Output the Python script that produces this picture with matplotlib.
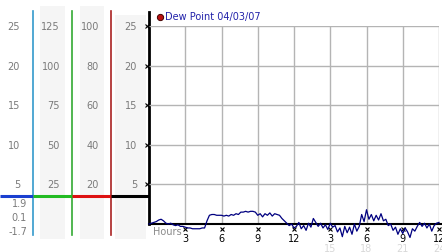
import matplotlib
matplotlib.use('Agg')
import matplotlib.pyplot as plt
from matplotlib.transforms import blended_transform_factory

# dew point trace, one value every 12 minutes from 00:00 to 24:00
hours = [i * 0.2 for i in range(121)]
dew = [0.0, 0.1, 0.2, 0.3, 0.5, 0.6, 0.4, 0.1, 0.0, 0.1,
       -0.1, -0.2, -0.1, -0.3, -0.3, -0.4, -0.5, -0.5, -0.6, -0.6,
       -0.6, -0.6, -0.5, -0.5, 0.4, 1.1, 1.2, 1.2, 1.1, 1.1,
       1.1, 1.0, 1.1, 1.0, 1.2, 1.1, 1.3, 1.2, 1.5, 1.5,
       1.6, 1.5, 1.6, 1.6, 1.5, 1.1, 1.3, 0.9, 1.3, 1.1,
       1.4, 1.0, 1.3, 1.2, 1.1, 0.7, 0.4, 0.1, -0.2, 0.0,
       -0.5, -0.3, 0.2, -0.6, -0.2, -0.8, 0.1, -0.4, 0.7, 0.2,
       -0.3, 0.1, -0.5, -0.1, -0.7, 0.1, -0.4, -0.2, -1.0, -0.5,
       -1.6, -0.3, -1.1, -0.4, -1.3, 0.0, -0.9, -0.3, 1.2, 0.3,
       1.8, 0.6, 1.2, 0.4, 1.1, 0.5, 1.3, 0.4, 0.6, -0.2,
       0.0, -0.8, -0.4, -1.3, -0.6, -1.2, -0.5, -1.0, -1.7, -0.6,
       -0.9, -0.3, 0.2, -0.3, 0.1, -0.5, 0.0, -0.9, -0.2, 0.1,
       0.2]

xticks = [3, 6, 9, 12, 15, 18, 21, 24]
xlabels = ['3', '6', '9', '12', '3', '6', '9', '12']
xlabels2 = ['15', '18', '21', '24']
yticks = [5, 10, 15, 20, 25]

col1 = ['5', '10', '15', '20', '25']
col2 = ['25', '50', '75', '100', '125']
col3 = ['20', '40', '60', '80', '100']
col4 = ['5', '10', '15', '20', '25']
low_labels = ['1.9', '0.1', '-1.7']

W, H = 442, 253
fig = plt.figure(figsize=(W / 100, H / 100), dpi=100)
fig.patch.set_facecolor('white')

# pixel space for the scale columns on the left
bg = fig.add_axes([0, 0, 1, 1])
bg.set_xlim(0, W)
bg.set_ylim(H, 0)
bg.axis('off')

# main plot area
ax = fig.add_axes([149 / W, (H - 225) / H, 290 / W, 198 / H])
ax.set_xlim(0, 24)
ax.set_ylim(0, 25)
ax.patch.set_alpha(0)
for s in ax.spines.values():
    s.set_visible(False)
ax.set_xticks([])
ax.set_yticks([])

# gray column backgrounds
for x0, x1, y0 in [(40, 65, 7), (80, 104, 7), (115, 146, 16)]:
    bg.fill_between([x0, x1], y0, 240, color='#f5f5f5', lw=0, zorder=0)

# colored scale lines
for x, c in [(33, '#3399cc'), (72, '#33aa33'), (111, '#aa2222')]:
    bg.plot([x, x], [12, 236], color=c, lw=1.2, zorder=2)
for x0, x1, c in [(0, 33, '#1a3fd0'), (33, 72, '#22bb22'),
                  (72, 111, '#dd1111'), (111, 149, 'black')]:
    bg.plot([x0, x1], [197, 197], color=c, lw=2.2, solid_capstyle='butt', zorder=3)
bg.plot([149, 149], [13, 225], color='black', lw=2, zorder=3)

# column labels follow the main y scale
tr = blended_transform_factory(bg.transData, ax.transData)
for xr, labs in [(20, col1), (60, col2), (99, col3), (137, col4)]:
    for v, lab in zip(yticks, labs):
        ax.text(xr, v, lab, transform=tr, ha='right', va='center',
                fontsize=7, color='#7a7a7a')
for yp, lab in zip([204, 218, 232], low_labels):
    bg.text(27, yp, lab, ha='right', va='center', fontsize=7, color='#7a7a7a')

# grid
ax.hlines(yticks, 0, 24.2, color='#b4b4b4', lw=1, zorder=1)
ax.vlines(xticks, 0, 25.2, color='#b4b4b4', lw=1, zorder=1)
ax.plot([0, 24.3], [0, 0], color='black', lw=1.5, zorder=2, clip_on=False)

# small tick crosses
ax.plot([-0.18] * len(yticks), yticks, ls='none', marker='x', ms=2.5,
        mew=0.8, color='black', clip_on=False)
ax.plot(xticks, [-0.65] * len(xticks), ls='none', marker='x', ms=2.5,
        mew=0.8, color='black', clip_on=False)

for h, lab in zip(xticks, xlabels):
    ax.text(h, -1.75, lab, ha='center', va='center', fontsize=7, color='black',
            zorder=5)
for h, lab in zip(xticks[4:], xlabels2):
    ax.text(h, -3.05, lab, ha='center', va='center', fontsize=7, color='#d8d8d8')
ax.text(0.3, -0.9, 'Hours', ha='left', va='center', fontsize=7, color='#8a8a8a')

# data
ax.plot(hours, dew, color='#000080', lw=0.9, zorder=4, clip_on=False)

# legend
ax.plot([0.92], [26.1], ls='none', marker='o', ms=4.5, mfc='#bb1111',
        mec='#440000', mew=0.7, clip_on=False)
ax.text(1.3, 26.2, 'Dew Point 04/03/07', ha='left', va='center',
        fontsize=7, color='#2222aa')

plt.savefig('out.png', dpi=100)
